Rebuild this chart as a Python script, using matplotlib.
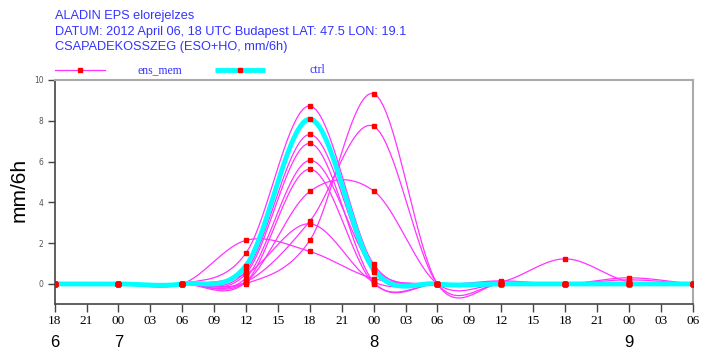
import numpy as np
import matplotlib
matplotlib.use("Agg")
import matplotlib.pyplot as plt
from matplotlib.lines import Line2D

# ── Data (mm/6h every 6 h from 2012-04-06 18 UTC) ─────────────────────────────
hours = [0, 6, 12, 18, 24, 30, 36, 42, 48, 54, 60]

ctrl = [0, 0, 0, 0.9, 8.08, 0.7, 0, 0, 0, 0, 0]

members = [
    [0, 0, 0, 0.02, 2.14, 9.33, 0, 0, 0, 0, 0],
    [0, 0, 0, 0.10, 3.08, 7.73, 0, 0, 0, 0, 0],
    [0, 0, 0, 0.10, 4.54, 4.56, 0, 0, 0, 0, 0],
    [0, 0, 0, 2.14, 1.59, 0.26, 0, 0.10, 1.23, 0.10, 0],
    [0, 0, 0, 1.52, 8.73, 0.96, 0, 0, 0, 0, 0],
    [0, 0, 0, 0.64, 7.33, 0.59, 0, 0.15, 0, 0.30, 0],
    [0, 0, 0, 0.51, 6.89, 0.10, 0, 0, 0, 0.20, 0],
    [0, 0, 0, 0.30, 6.06, 0.75, 0, 0.10, 0, 0.05, 0],
    [0, 0, 0, 0.10, 5.63, 0.02, 0, 0, 0, 0, 0],
    [0, 0, 0, 0.50, 2.95, 0.10, 0, 0, 0, 0, 0],
]

tick_hours = list(range(0, 61, 3))
tick_labels = ["18", "21", "00", "03", "06", "09", "12", "15", "18", "21", "00",
               "03", "06", "09", "12", "15", "18", "21", "00", "03", "06"]
day_labels = ["6", "7", "8", "9"]
day_hours = [0, 6, 30, 54]

title_lines = [
    "ALADIN EPS elorejelzes",
    "DATUM: 2012 April 06, 18 UTC Budapest LAT: 47.5 LON: 19.1",
    "CSAPADEKOSSZEG (ESO+HO, mm/6h)",
]


def catmull_rom(x, y, n=20):
    """Smooth curve through the points (uniform Catmull-Rom)."""
    x = np.asarray(x, float)
    y = np.asarray(y, float)
    m = np.zeros_like(y)
    m[1:-1] = (y[2:] - y[:-2]) / 2
    m[0] = y[1] - y[0]
    m[-1] = y[-1] - y[-2]
    xs, ys = [], []
    for i in range(len(x) - 1):
        s = np.linspace(0, 1, n, endpoint=(i == len(x) - 2))
        h00 = 2 * s**3 - 3 * s**2 + 1
        h10 = s**3 - 2 * s**2 + s
        h01 = -2 * s**3 + 3 * s**2
        h11 = s**3 - s**2
        xs.append(x[i] + s * (x[i + 1] - x[i]))
        ys.append(h00 * y[i] + h10 * m[i] + h01 * y[i + 1] + h11 * m[i + 1])
    return np.concatenate(xs), np.concatenate(ys)


MAGENTA = "#ff33ff"
CYAN = "#00ffff"
RED = "#ff0000"
BLUE = "#3333ff"

fig = plt.figure(figsize=(7.03, 3.49), dpi=100)
ax = fig.add_axes([0.0778, 0.1298, 0.9075, 0.641])

for mem in members:
    xs, ys = catmull_rom(hours, mem)
    ax.plot(xs, ys, color=MAGENTA, lw=0.9, zorder=2)

xs, ys = catmull_rom(hours, ctrl)
ax.plot(xs, ys, color=CYAN, lw=3.5, zorder=3, solid_capstyle="butt")

for mem in members + [ctrl]:
    ax.plot(hours, mem, ls="none", marker="s", ms=3.2, color=RED, mec=RED, zorder=4)

ax.set_xlim(0, 60)
ax.set_ylim(-0.97, 10)

ax.set_xticks(tick_hours)
ax.set_xticklabels(tick_labels, family="Liberation Serif", fontsize=9.5)
ax.set_yticks([0, 2, 4, 6, 8, 10])
ax.set_yticklabels(["0", "2", "4", "6", "8", "10"], fontsize=5.5, color="#555555")
ax.tick_params(axis="x", direction="out", length=6, width=1, color="#444444", pad=2)
ax.tick_params(axis="y", direction="out", length=5, width=1, color="#444444", pad=3)

for side in ("left", "bottom"):
    ax.spines[side].set_color("#444444")
    ax.spines[side].set_linewidth(1.2)
for side in ("top", "right"):
    ax.spines[side].set_color("#aaaaaa")
    ax.spines[side].set_linewidth(1.5)

fig.text(19 / 703, 1 - 190 / 349, "mm/6h", rotation=90, fontsize=15,
         family="Liberation Sans", ha="center", va="center")

for h, d in zip(day_hours, day_labels):
    ax.text(h, -0.175, d, transform=ax.get_xaxis_transform(), ha="center", va="center",
            fontsize=12, family="Liberation Sans")

# titles
for i, line in enumerate(title_lines):
    fig.text(55 / 703, 1 - (16 + i * 15.5) / 349, line, color=BLUE, fontsize=9.2,
             family="Liberation Sans", va="center", ha="left")

# legend row
ly = 1 - 70 / 349
fig.add_artist(Line2D([55 / 703, 105 / 703], [ly, ly], color=MAGENTA, lw=0.9))
fig.add_artist(Line2D([80 / 703], [ly], marker="s", ms=3.2, color=RED, ls="none"))
fig.text(137 / 703, ly, "ens_mem", color=BLUE, fontsize=8.5, family="Liberation Serif",
         va="center", ha="left")
fig.add_artist(Line2D([215 / 703, 265 / 703], [ly, ly], color=CYAN, lw=3.5,
                      solid_capstyle="butt"))
fig.add_artist(Line2D([240 / 703], [ly], marker="s", ms=3.2, color=RED, ls="none"))
fig.text(310 / 703, ly, "ctrl", color=BLUE, fontsize=8.5, family="Liberation Serif",
         va="center", ha="left")

fig.savefig("out.png", dpi=100)
